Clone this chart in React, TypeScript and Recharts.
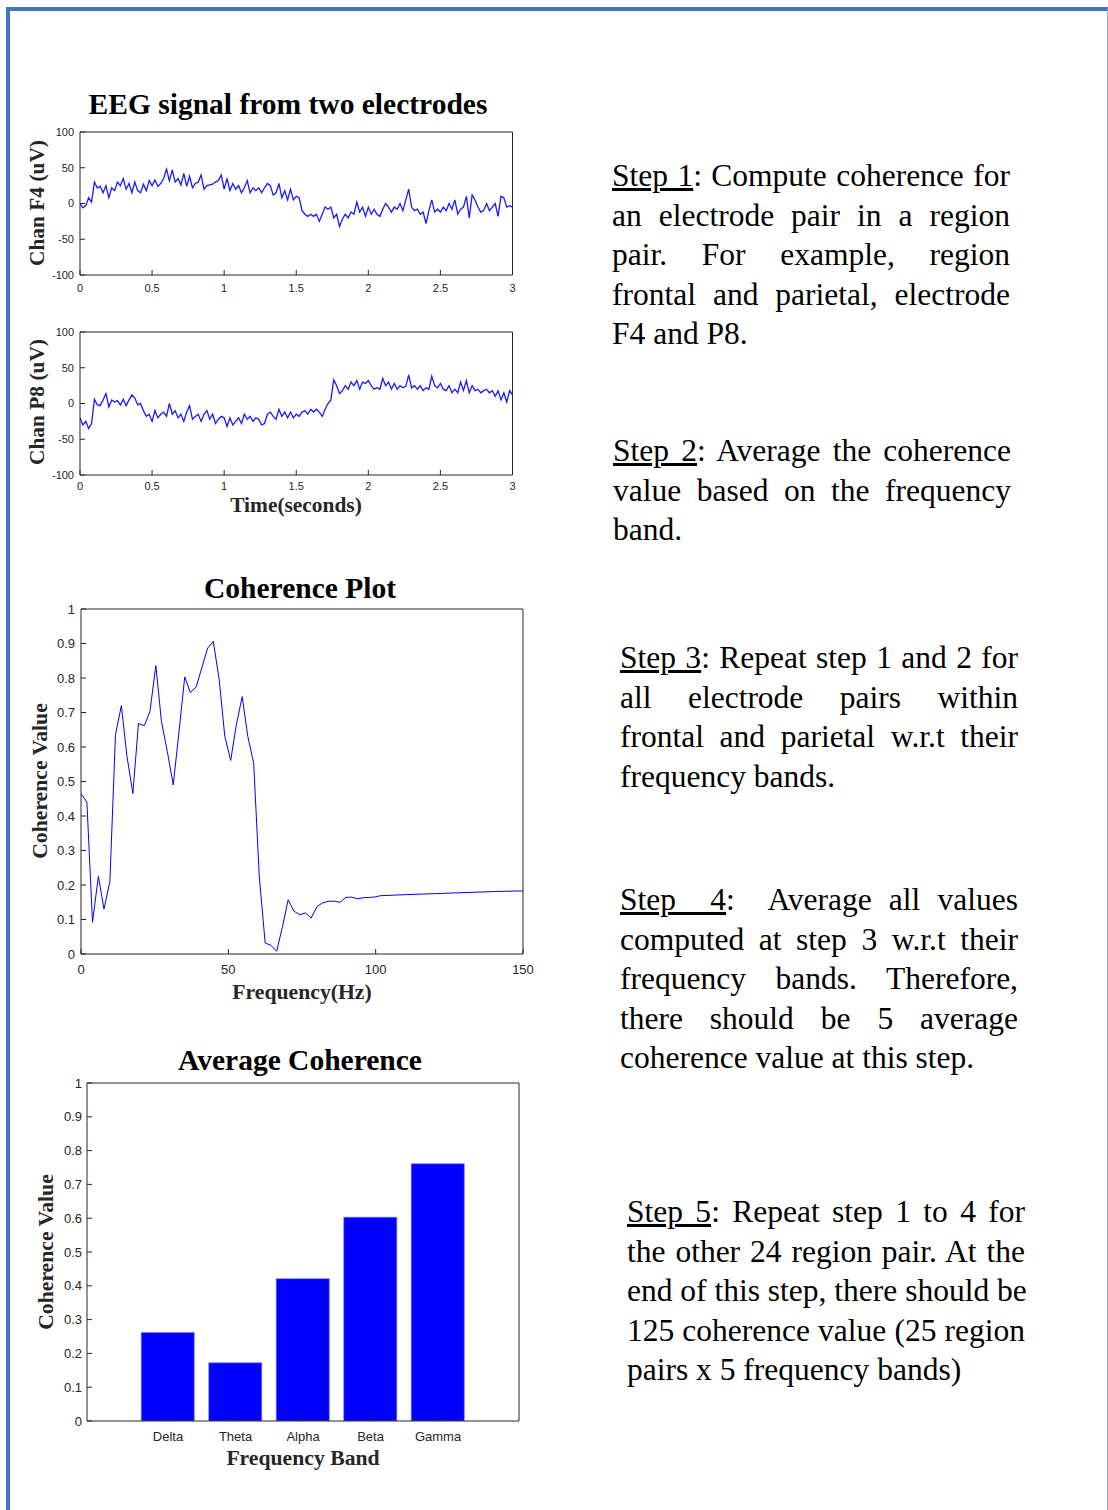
import React from 'react';
import { LineChart, Line, BarChart, Bar, XAxis, YAxis } from 'recharts';

// EEG traces, one sample every 0.02 s from 0 to 3 s (uV)
const SAMPLE_STEP = 0.02;
const F4_VALUES = [
  0, -6, -3, 8, 2, 30, 22, 24, 15, 25,
  8, 22, 18, 30, 25, 35, 20, 28, 15, 30,
  18, 15, 27, 18, 32, 25, 33, 24, 28, 35,
  48, 32, 47, 30, 35, 26, 42, 24, 38, 22,
  28, 30, 40, 20, 25, 26, 27, 30, 32, 40,
  20, 35, 18, 28, 20, 25, 15, 22, 32, 15,
  22, 18, 22, 15, 22, 28, 25, 12, 15, 28,
  8, 18, 5, 20, 5, 10, 8, -10, -15, -18,
  -15, -18, -15, -25, -15, -5, -8, -5, -20, -15,
  -32, -22, -15, -20, -12, -15, 2, -12, -5, -18,
  -5, -15, -8, -15, -18, -8, 0, -5, -12, -5,
  -8, 0, -10, 5, 20, -5, -10, -8, -15, -12,
  -28, -10, 5, -12, -8, -12, -5, -10, 0, -8,
  5, -15, -8, -5, 10, -20, 12, 5, -5, -12,
  -10, 0, -10, -5, 0, -18, 10, 8, -5, -3,
  -5,
];
const P8_VALUES = [
  -20, -30, -25, -35, -28, 6, -2, -3, 5, 14,
  -5, 5, 2, 4, -2, 6, -3, 5, 12, 8,
  -2, 0, -10, -18, -15, -25, -10, -20, -15, -12,
  -18, 0, -15, -10, -20, -15, -25, -12, -3, -22,
  -18, -15, -25, -15, -10, -22, -15, -28, -22, -18,
  -20, -32, -20, -30, -25, -20, -28, -15, -22, -18,
  -25, -20, -22, -30, -28, -15, -12, -18, -22, -8,
  -18, -12, -20, -12, -20, -15, -18, -12, -10, -15,
  -8, -12, -8, -12, -18, -8, 0, 5, 33, 25,
  14, 18, 25, 20, 30, 25, 32, 20, 30, 28,
  32, 25, 20, 22, 20, 35, 25, 30, 20, 28,
  20, 25, 22, 24, 40, 22, 25, 20, 25, 18,
  22, 20, 38, 25, 22, 28, 20, 18, 25, 15,
  20, 15, 30, 18, 32, 15, 25, 18, 20, 15,
  18, 20, 15, 18, 10, 18, 5, 15, 2, 18,
  12,
];
const TIME_TICKS = [0, 0.5, 1, 1.5, 2, 2.5, 3];
const UV_TICKS = [-100, -50, 0, 50, 100];

// coherence spectrum
const FREQS = [
  0, 2, 3.9, 5.9, 7.8, 9.8, 11.7, 13.7, 15.6, 17.6, 19.5, 21.5, 23.4, 25.4, 27.3, 29.3,
  31.3, 33.2, 35.2, 37.1, 39.1, 41, 43, 44.9, 46.9, 48.8, 50.8, 52.7, 54.7, 56.6, 58.6,
  60.5, 62.5, 64.5, 66.4, 68.4, 70.3, 72.3, 74.2, 76.2, 78.1, 80.1, 82, 84, 85.9, 87.9,
  89.8, 91.8, 93.8, 95.7, 97.7, 99.6, 101.6, 110, 120, 130, 140, 150,
];
const COHERENCE = [
  0.465, 0.44, 0.092, 0.225, 0.13, 0.21, 0.636, 0.72, 0.573, 0.465, 0.668, 0.662, 0.703, 0.836, 0.674, 0.587,
  0.49, 0.64, 0.803, 0.758, 0.774, 0.83, 0.887, 0.906, 0.795, 0.631, 0.561, 0.664, 0.746, 0.631, 0.553,
  0.225, 0.032, 0.025, 0.008, 0.08, 0.157, 0.124, 0.114, 0.119, 0.104, 0.138, 0.148, 0.153, 0.153, 0.15,
  0.164, 0.165, 0.16, 0.163, 0.164, 0.165, 0.169, 0.172, 0.175, 0.178, 0.181, 0.183,
];
const FREQ_TICKS = [0, 50, 100, 150];
const COH_TICKS = [0, 0.1, 0.2, 0.3, 0.4, 0.5, 0.6, 0.7, 0.8, 0.9, 1];

// average coherence per band
const BANDS = ['Delta', 'Theta', 'Alpha', 'Beta', 'Gamma'];
const BAND_AVG = [0.262, 0.172, 0.421, 0.603, 0.761];
const BAND_POS = [1, 2, 3, 4, 5];

const STEPS = [
  { left: 612, top: 156, step: 'Step 1', lines: [': Compute coherence for', 'an electrode pair in a region', 'pair. For example, region', 'frontal and parietal, electrode', 'F4 and P8.'] },
  { left: 613, top: 431, step: 'Step 2', lines: [': Average the coherence', 'value based on the frequency', 'band.'] },
  { left: 620, top: 638, step: 'Step 3', lines: [': Repeat step 1 and 2 for', 'all electrode pairs within', 'frontal and parietal w.r.t their', 'frequency bands.'] },
  { left: 620, top: 880, step: 'Step  4', lines: [':  Average all values', 'computed at step 3 w.r.t their', 'frequency bands. Therefore,', 'there should be 5 average', 'coherence value at this step.'] },
  { left: 627, top: 1192, step: 'Step 5', lines: [': Repeat step 1 to 4 for', 'the other 24 region pair. At the', 'end of this step, there should be', '125 coherence value (25 region', 'pairs x 5 frequency bands)'] },
];

const AXIS = '#262626';
const SANS = '"Liberation Sans", Arial, sans-serif';
const SERIF = '"Liberation Serif", "Times New Roman", serif';
const BLUE = '#0000ff';

const Txt = ({ x, y, size, children, rotate, color = '#000' }: any) => (
  <div
    style={{
      position: 'absolute', left: x, top: y, fontFamily: SERIF, fontWeight: 'bold', fontSize: size,
      lineHeight: 1, whiteSpace: 'nowrap', color,
      transform: `translate(-50%, -50%)${rotate ? ' rotate(-90deg)' : ''}`,
    }}
  >
    {children}
  </div>
);

function EegChart({ values, top, xTickMargin }: { values: number[]; top: number; xTickMargin: number }) {
  const rows = values.map((v, i) => ({ t: Math.round(i * SAMPLE_STEP * 100) / 100, v }));
  const tickFont = { fontSize: 11, fill: AXIS, fontFamily: SANS };
  return (
    <div style={{ position: 'absolute', left: 0, top }}>
      <LineChart width={530} height={175} data={rows} margin={{ top: 10, right: 16.5, bottom: 0, left: 0 }}>
        <XAxis dataKey="t" type="number" domain={[0, 3]} ticks={TIME_TICKS} interval={0} height={21}
          tickSize={-5} tickMargin={xTickMargin} stroke={AXIS} tick={tickFont} allowDataOverflow />
        <XAxis xAxisId="top" orientation="top" type="number" domain={[0, 3]} ticks={TIME_TICKS} interval={0}
          height={1} tickSize={-5} tick={false} stroke={AXIS} allowDataOverflow />
        <YAxis type="number" domain={[-100, 100]} ticks={UV_TICKS} interval={0} width={80}
          tickSize={-5} tickMargin={11} stroke={AXIS} tick={tickFont} allowDataOverflow />
        <YAxis yAxisId="right" orientation="right" type="number" domain={[-100, 100]} ticks={UV_TICKS} interval={0}
          width={1} tickSize={-5} tick={false} stroke={AXIS} allowDataOverflow />
        <Line dataKey="v" type="linear" stroke="#1a1aff" strokeWidth={1.3} dot={false} isAnimationActive={false} />
      </LineChart>
    </div>
  );
}

export default function App() {
  const cohRows = FREQS.map((f, i) => ({ f, c: COHERENCE[i] }));
  const barRows = BANDS.map((b, i) => ({ band: b, pos: BAND_POS[i], value: BAND_AVG[i] }));
  const cohTick = { fontSize: 13, fill: AXIS, fontFamily: SANS };
  const barTick = { fontSize: 13, fill: AXIS, fontFamily: SANS };

  return (
    <div style={{ position: 'absolute', left: 0, top: 0, width: 1108, height: 1510, background: '#fff', overflow: 'hidden' }}>
      {/* page frame */}
      <div style={{
        position: 'absolute', left: 6, top: 7, width: 1097, height: 1600,
        borderLeft: '4px solid #4472C4', borderTop: '4px solid #4472C4', borderRight: '1px solid #8FAADC',
      }} />

      <Txt x={288} y={105} size={29.5}>EEG signal from two electrodes</Txt>
      <EegChart values={F4_VALUES} top={121} xTickMargin={14} />
      <Txt x={38} y={203} size={21.4} rotate color={AXIS}>Chan F4 (uV)</Txt>

      <EegChart values={P8_VALUES} top={321} xTickMargin={12} />
      <Txt x={38} y={402} size={21.4} rotate color={AXIS}>Chan P8 (uV)</Txt>
      <Txt x={296} y={506} size={21.4} color={AXIS}>Time(seconds)</Txt>

      <Txt x={300} y={589} size={29.5}>Coherence Plot</Txt>
      <div style={{ position: 'absolute', left: 0, top: 598 }}>
        <LineChart width={545} height={378} data={cohRows} margin={{ top: 10, right: 21, bottom: 0, left: 0 }}>
          <XAxis dataKey="f" type="number" domain={[0, 150]} ticks={FREQ_TICKS} interval={0} height={22}
            tickSize={-5} tickMargin={16} stroke={AXIS} tick={cohTick} allowDataOverflow />
          <XAxis xAxisId="top" orientation="top" type="number" domain={[0, 150]} ticks={FREQ_TICKS} interval={0}
            height={1} tickSize={-5} tick={false} stroke={AXIS} allowDataOverflow />
          <YAxis type="number" domain={[0, 1]} ticks={COH_TICKS} interval={0} width={81}
            tickSize={-5} tickMargin={11} stroke={AXIS} tick={cohTick} allowDataOverflow />
          <YAxis yAxisId="right" orientation="right" type="number" domain={[0, 1]} ticks={COH_TICKS} interval={0}
            width={1} tickSize={-5} tick={false} stroke={AXIS} allowDataOverflow />
          <Line dataKey="c" type="linear" stroke={BLUE} strokeWidth={1} dot={false} isAnimationActive={false} />
        </LineChart>
      </div>
      <Txt x={41} y={781} size={21.7} rotate color={AXIS}>Coherence Value</Txt>
      <Txt x={302} y={993} size={21.7} color={AXIS}>Frequency(Hz)</Txt>

      <Txt x={300} y={1061} size={29.5}>Average Coherence</Txt>
      <div style={{ position: 'absolute', left: 0, top: 1071 }}>
        <BarChart width={540} height={375} data={barRows} margin={{ top: 11, right: 20, bottom: 0, left: 0 }}>
          <XAxis dataKey="pos" type="number" domain={[-0.2, 6.2]} ticks={BAND_POS} interval={0} height={25}
            tickSize={-5} tickMargin={16} stroke={AXIS} tick={barTick} allowDataOverflow
            tickFormatter={(v: number) => BANDS[BAND_POS.indexOf(v)] ?? ''} />
          <XAxis xAxisId="top" orientation="top" type="number" domain={[-0.2, 6.2]} ticks={BAND_POS} interval={0}
            height={1} tickSize={-5} tick={false} stroke={AXIS} allowDataOverflow />
          <YAxis type="number" domain={[0, 1]} ticks={COH_TICKS} interval={0} width={87}
            tickSize={-5} tickMargin={10} stroke={AXIS} tick={barTick} allowDataOverflow />
          <YAxis yAxisId="right" orientation="right" type="number" domain={[0, 1]} ticks={COH_TICKS} interval={0}
            width={1} tickSize={-5} tick={false} stroke={AXIS} allowDataOverflow />
          <Bar dataKey="value" fill={BLUE} stroke="#6b6bff" strokeWidth={0.6} barSize={53} isAnimationActive={false} />
        </BarChart>
      </div>
      <Txt x={47} y={1252} size={21.7} rotate color={AXIS}>Coherence Value</Txt>
      <Txt x={303} y={1459} size={21.7} color={AXIS}>Frequency Band</Txt>

      {STEPS.map((s) => (
        <div key={s.step} style={{
          position: 'absolute', left: s.left, top: s.top, width: 398, fontFamily: SERIF, fontSize: 31.5,
          lineHeight: '39.5px', color: '#000',
        }}>
          {s.lines.map((ln, i) => {
            const last = i === s.lines.length - 1;
            return (
              <div key={i} style={{ whiteSpace: 'pre', textAlign: 'justify', textAlignLast: last ? 'left' : 'justify' } as any}>
                {i === 0 ? <><span style={{ textDecoration: 'underline', whiteSpace: 'pre' }}>{s.step}</span>{ln}</> : ln}
              </div>
            );
          })}
        </div>
      ))}
    </div>
  );
}
